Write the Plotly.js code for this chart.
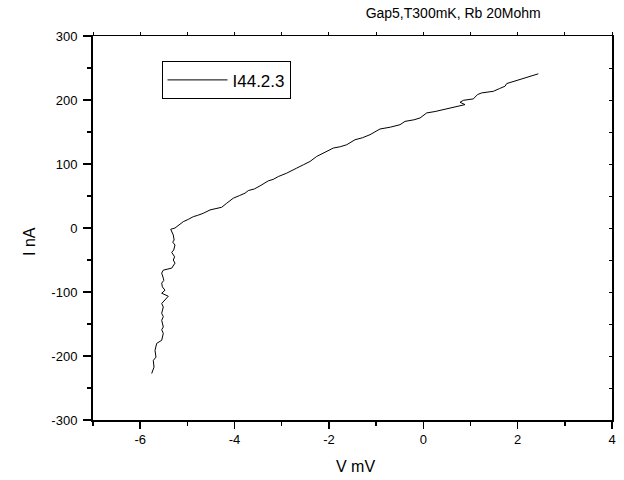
<!DOCTYPE html>
<html>
<head>
<meta charset="utf-8">
<script src="https://cdn.plot.ly/plotly-3.0.1.min.js"></script>
<style>html,body{margin:0;padding:0;background:#fff;}#chart{width:624px;height:480px;}</style>
</head>
<body>
<div id="chart"></div>
<script>
const seriesName = "I44.2.3";
const voltage = [-5.756,-5.707,-5.722,-5.665,-5.686,-5.650,-5.600,-5.544,-5.510,-5.544,-5.510,-5.544,-5.510,-5.544,-5.510,-5.544,-5.404,-5.544,-5.474,-5.530,-5.544,-5.500,-5.510,-5.544,-5.510,-5.420,-5.332,-5.262,-5.298,-5.270,-5.332,-5.290,-5.262,-5.311,-5.280,-5.298,-5.353,-5.262,-5.160,-5.086,-4.980,-4.874,-4.780,-4.662,-4.520,-4.400,-4.272,-4.166,-4.026,-3.900,-3.778,-3.708,-3.580,-3.460,-3.284,-3.180,-3.072,-2.894,-2.780,-2.682,-2.543,-2.400,-2.259,-2.080,-1.907,-1.760,-1.623,-1.447,-1.290,-1.129,-0.917,-0.700,-0.493,-0.387,-0.200,-0.069,0.073,0.250,0.425,0.600,0.779,0.885,0.779,0.849,1.061,1.150,1.239,1.485,1.620,1.732,1.769,2.050,2.250,2.438];
const current = [-227.3,-217.4,-206.9,-201.7,-191.2,-180.3,-178.0,-175.5,-164.6,-159.0,-154.7,-144.2,-138.5,-133.2,-123.4,-118.0,-106.6,-101.9,-97.2,-92.0,-86.2,-82.0,-78.4,-70.5,-65.8,-64.5,-62.7,-54.9,-50.0,-45.0,-38.0,-34.5,-26.6,-22.0,-18.8,-11.0,-2.0,0.0,5.5,9.9,13.5,17.7,19.8,23.0,28.2,30.0,32.4,38.7,46.6,50.5,54.4,58.5,61.0,65.8,73.7,76.0,80.4,85.7,90.5,93.6,98.7,104.0,111.8,118.5,124.9,127.0,130.1,137.9,141.0,145.8,154.7,157.5,161.4,166.6,169.0,171.9,179.8,182.0,185.0,187.5,190.1,192.8,196.4,199.5,201.7,208.5,211.1,213.6,218.0,221.5,225.7,232.0,236.0,240.9];
const xTicks = [-6,-4,-2,0,2,4];
const yTicks = [-300,-200,-100,0,100,200,300];

const font = "Liberation Sans, Arial, sans-serif";
const traces = [
  {x: voltage, y: current, type: "scatter", mode: "lines", name: seriesName,
   line: {color: "#000", width: 1}},
  {x: [null], y: [null], xaxis: "x2", yaxis: "y2", type: "scatter", mode: "lines",
   showlegend: false, hoverinfo: "skip"}
];
const layout = {
  width: 624, height: 480,
  margin: {l: 93, r: 12, t: 36, b: 60},
  paper_bgcolor: "#fff", plot_bgcolor: "#fff",
  font: {family: font, size: 13, color: "#000"},
  showlegend: true,
  title: {text: "Gap5,T300mK, Rb 20Mohm", font: {family: font, size: 14, color: "#000"},
          x: 0.694, xref: "paper", xanchor: "center", y: 0.972, yref: "container", yanchor: "middle"},
  xaxis: {range: [-7, 4], tickvals: xTicks, ticktext: xTicks.map(String),
          ticks: "outside", ticklen: 7, tickwidth: 1.5, tickcolor: "#000",
          minor: {dtick: 1, tick0: 0, ticks: "outside", ticklen: 4, tickwidth: 1.5, tickcolor: "#000", showgrid: false},
          showline: true, linecolor: "#000", linewidth: 1.5, showgrid: false, zeroline: false,
          tickfont: {family: font, size: 13}},
  yaxis: {range: [-300, 300], tickvals: yTicks, ticktext: yTicks.map(String),
          ticks: "outside", ticklen: 8, tickwidth: 1.5, tickcolor: "#000", ticklabelstandoff: 3,
          minor: {dtick: 50, tick0: 0, ticks: "outside", ticklen: 4, tickwidth: 1.5, tickcolor: "#000", showgrid: false},
          showline: true, linecolor: "#000", linewidth: 2, showgrid: false, zeroline: false,
          tickfont: {family: font, size: 13}},
  xaxis2: {overlaying: "x", side: "top", range: [-7, 4], dtick: 1, tick0: 0,
           ticks: "outside", ticklen: 3, tickwidth: 1, tickcolor: "#000", showticklabels: false,
           showline: true, linecolor: "#000", linewidth: 1.5, showgrid: false, zeroline: false},
  yaxis2: {overlaying: "y", side: "right", range: [-300, 300], dtick: 50, tick0: 0,
           ticks: "inside", ticklen: 3, tickwidth: 1, tickcolor: "#000", showticklabels: false,
           showline: true, linecolor: "#000", linewidth: 2, showgrid: false, zeroline: false},
  annotations: [
    {text: "V mV", xref: "paper", yref: "paper", x: 0.505, y: (420 - 466) / 384,
     xanchor: "center", yanchor: "middle", showarrow: false, font: {family: font, size: 16}},
    {text: "I nA", xref: "paper", yref: "paper", x: (30 - 93) / 519, y: (420 - 242) / 384,
     xanchor: "center", yanchor: "middle", textangle: -90, showarrow: false, font: {family: font, size: 16}}
  ],
  legend: {x: 0.132, y: 0.934, xanchor: "left", yanchor: "top", bordercolor: "#000", borderwidth: 1,
           bgcolor: "#fff", font: {family: font, size: 17}, itemwidth: 60}
};
Plotly.newPlot("chart", traces, layout, {displayModeBar: false, staticPlot: true});
</script>
</body>
</html>
